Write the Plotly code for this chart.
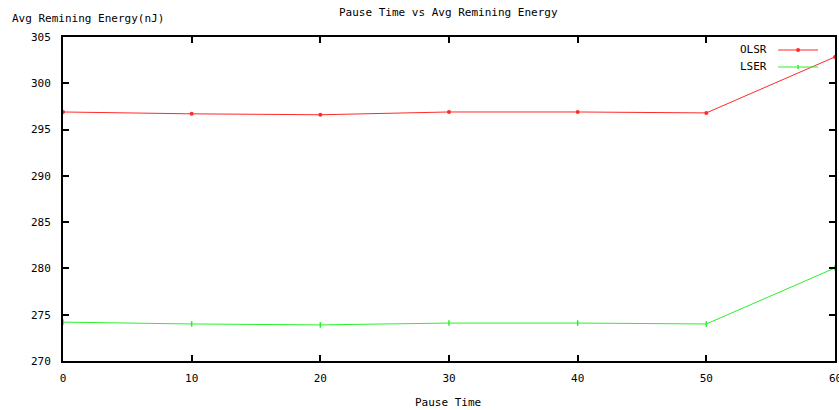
import plotly.graph_objects as go

# Pause time (x) and average remaining energy (nJ) per protocol
pause_time = [0, 10, 20, 30, 40, 50, 60]
olsr_energy = [296.9, 296.7, 296.6, 296.9, 296.9, 296.8, 302.85]
lser_energy = [274.2, 274.0, 273.9, 274.1, 274.1, 274.0, 280.05]

x_ticks = [0, 10, 20, 30, 40, 50, 60]
y_ticks = [270, 275, 280, 285, 290, 295, 300, 305]

series_names = ["OLSR", "LSER"]
series_colors = ["#ff2a2a", "#2af02a"]

FONT = "DejaVu Sans Mono"
W, H = 839, 410
L, R, T, B = 63, 2, 37, 49

fig = go.Figure()
fig.add_trace(go.Scatter(
    x=pause_time, y=olsr_energy, mode="lines+markers", name=series_names[0],
    line=dict(color=series_colors[0], width=1),
    marker=dict(symbol="circle", size=4, color=series_colors[0]),
    cliponaxis=False, showlegend=False))
fig.add_trace(go.Scatter(
    x=pause_time, y=lser_energy, mode="lines+markers", name=series_names[1],
    line=dict(color=series_colors[1], width=1),
    marker=dict(symbol="line-ns", size=4, color=series_colors[1],
                line=dict(color=series_colors[1], width=1.5)),
    cliponaxis=False, showlegend=False))

pw, ph = W - L - R, H - T - B


def px(xp):
    return (xp - L) / pw


def py(yp):
    return (H - B - yp) / ph


# Key in the upper right: label on the left, line sample on the right
shapes = []
annotations = []
for i, (name, col) in enumerate(zip(series_names, series_colors)):
    yk = 50 + 17 * i
    annotations.append(dict(
        x=px(771), y=py(yk), xref="paper", yref="paper", text=name,
        showarrow=False, xanchor="right", yanchor="middle",
        font=dict(family=FONT, size=11, color="#000000")))
    shapes.append(dict(
        type="line", xref="paper", yref="paper",
        x0=px(780), x1=px(820), y0=py(yk), y1=py(yk),
        line=dict(color=col, width=1)))
    if i == 0:
        shapes.append(dict(
            type="circle", xref="paper", yref="paper",
            x0=px(798), x1=px(802), y0=py(yk - 2), y1=py(yk + 2),
            fillcolor=col, line=dict(color=col, width=0)))
    else:
        shapes.append(dict(
            type="line", xref="paper", yref="paper",
            x0=px(800), x1=px(800), y0=py(yk - 2), y1=py(yk + 2),
            line=dict(color=col, width=1.5)))

annotations.append(dict(
    x=px(449), y=py(12), xref="paper", yref="paper",
    text="Pause Time vs Avg Remining Energy", showarrow=False,
    xanchor="center", yanchor="middle",
    font=dict(family=FONT, size=11, color="#000000")))
annotations.append(dict(
    x=px(10), y=py(19), xref="paper", yref="paper",
    text="Avg Remining Energy(nJ)", showarrow=False,
    xanchor="left", yanchor="middle",
    font=dict(family=FONT, size=11, color="#000000")))
annotations.append(dict(
    x=px(449), y=py(403), xref="paper", yref="paper",
    text="Pause Time", showarrow=False,
    xanchor="center", yanchor="middle",
    font=dict(family=FONT, size=11, color="#000000")))
# The last x tick label sits on the right edge of the page
annotations.append(dict(
    x=x_ticks[-1], y=py(378), xref="x", yref="paper",
    text=str(x_ticks[-1]), showarrow=False,
    xanchor="center", yanchor="middle",
    font=dict(family=FONT, size=11, color="#000000")))

fig.update_layout(
    width=W, height=H,
    margin=dict(l=L, r=R, t=T, b=B, pad=0),
    paper_bgcolor="#ffffff", plot_bgcolor="#ffffff",
    showlegend=False,
    font=dict(family=FONT, size=11, color="#000000"),
    shapes=shapes, annotations=annotations,
    xaxis=dict(range=[0, 60], tickvals=x_ticks, ticktext=[str(v) for v in x_ticks],
               ticks="inside", ticklen=6, tickwidth=2, tickcolor="#000000",
               ticklabelstandoff=6,
               showline=True, linecolor="#000000", linewidth=2, mirror="ticks",
               showgrid=False, zeroline=False, fixedrange=True),
    yaxis=dict(range=[270, 305], tickvals=y_ticks, ticktext=[str(v) for v in y_ticks],
               ticks="inside", ticklen=6, tickwidth=2, tickcolor="#000000",
               ticklabelstandoff=8,
               showline=True, linecolor="#000000", linewidth=2, mirror="ticks",
               showgrid=False, zeroline=False, fixedrange=True),
)

fig.write_html("out.html")
